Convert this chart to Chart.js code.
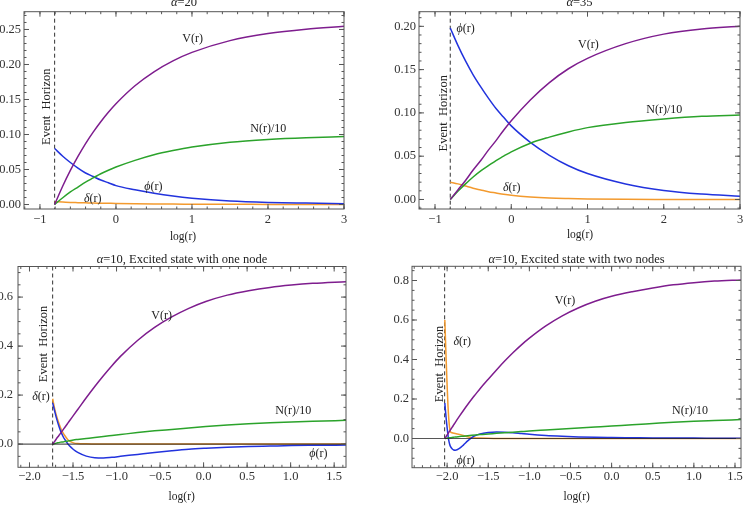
<!DOCTYPE html>
<html>
<head>
<meta charset="utf-8">
<script src="https://cdn.jsdelivr.net/npm/chart.js@4/dist/chart.umd.min.js"></script>
<style>
  html, body { margin: 0; padding: 0; background: #fff; }
  #wrap { position: relative; width: 749px; height: 508px; overflow: hidden; }
  canvas { position: absolute; }
</style>
</head>
<body>
<div id="wrap">
  <canvas id="c1" width="375" height="254" style="left:0;top:0"></canvas>
  <canvas id="c2" width="374" height="254" style="left:375px;top:0"></canvas>
  <canvas id="c3" width="375" height="254" style="left:0;top:254px"></canvas>
  <canvas id="c4" width="374" height="254" style="left:375px;top:254px"></canvas>
</div>
<script>
// alpha = 20
const x20 = [-0.807, -0.7, -0.6, -0.5, -0.4, -0.3, -0.2, -0.1, 0, 0.25, 0.5, 0.75, 1, 1.5, 2, 2.5, 3];
const v20 = [0, 0.0264, 0.0487, 0.0687, 0.087, 0.1034, 0.1183, 0.1318, 0.144, 0.1697, 0.1896, 0.2052, 0.2173, 0.2341, 0.2443, 0.2505, 0.2545];
const n20 = [0, 0.0097, 0.018, 0.025, 0.032, 0.038, 0.044, 0.049, 0.0535, 0.063, 0.071, 0.077, 0.082, 0.089, 0.093, 0.0955, 0.097];
const phi20 = [0.080, 0.069, 0.060, 0.052, 0.045, 0.040, 0.035, 0.031, 0.027, 0.021, 0.016, 0.012, 0.009, 0.005, 0.003, 0.002, 0.0012];
const d20 = [0.004, 0.0035, 0.003, 0.0027, 0.0024, 0.0021, 0.0019, 0.0017, 0.0015, 0.0011, 0.0008, 0.0006, 0.0005, 0.0003, 0.0002, 0.0001, 0];

// alpha = 35
const x35 = [-0.8, -0.7, -0.6, -0.5, -0.4, -0.3, -0.2, -0.1, 0, 0.25, 0.5, 0.75, 1, 1.5, 2, 2.5, 3];
const v35 = [0, 0.011, 0.022, 0.034, 0.045, 0.057, 0.068, 0.080, 0.091, 0.115, 0.135, 0.151, 0.163, 0.180, 0.191, 0.197, 0.200];
const n35 = [0, 0.0095, 0.018, 0.026, 0.033, 0.039, 0.045, 0.050, 0.055, 0.065, 0.072, 0.078, 0.083, 0.089, 0.093, 0.096, 0.0975];
const phi35 = [0.198, 0.178, 0.160, 0.144, 0.130, 0.117, 0.105, 0.095, 0.085, 0.066, 0.051, 0.039, 0.030, 0.018, 0.0105, 0.0063, 0.0037];
const d35 = [0.020, 0.018, 0.0155, 0.013, 0.011, 0.009, 0.0075, 0.006, 0.0048, 0.0028, 0.0016, 0.001, 0.0006, 0.0002, 0.0001, 0, 0];

// alpha = 10, one node
const xOne = [-1.734, -1.711, -1.692, -1.662, -1.642, -1.613, -1.593, -1.564, -1.544, -1.495, -1.446, -1.348, -1.250, -1.151, -1.053, -0.955, -0.759, -0.563, -0.366, -0.170, 0.026, 0.272, 0.517, 0.763, 1.008, 1.253, 1.636];
const vOne = [0, 0.011, 0.021, 0.035, 0.045, 0.059, 0.069, 0.083, 0.093, 0.117, 0.141, 0.189, 0.235, 0.279, 0.320, 0.358, 0.423, 0.476, 0.519, 0.554, 0.582, 0.608, 0.626, 0.6395, 0.649, 0.656, 0.663];
const nOne = [0, 0.002, 0.004, 0.006, 0.008, 0.009, 0.011, 0.012, 0.014, 0.017, 0.019, 0.023, 0.027, 0.031, 0.035, 0.039, 0.047, 0.054, 0.060, 0.066, 0.072, 0.078, 0.083, 0.087, 0.090, 0.093, 0.097];
const phiOne = [0.168, 0.135, 0.108, 0.073, 0.053, 0.030, 0.018, 0.003, -0.006, -0.022, -0.034, -0.049, -0.056, -0.057, -0.054, -0.050, -0.042, -0.034, -0.027, -0.021, -0.017, -0.013, -0.010, -0.008, -0.006, -0.005, -0.004];
const dOne = [0.185, 0.145, 0.118, 0.085, 0.066, 0.045, 0.034, 0.020, 0.013, 0.005, 0.002, 0.001, 0.0005, 0, 0, 0, 0, 0, 0, 0, 0, 0, 0, 0, 0, 0, 0];

// alpha = 10, two nodes
const xTwo = [-2.028, -2.02, -2.01, -2.0, -1.99, -1.98, -1.97, -1.96, -1.94, -1.92, -1.9, -1.85, -1.8, -1.75, -1.7, -1.65, -1.6, -1.5, -1.4, -1.3, -1.2, -1.1, -1.0, -0.8, -0.6, -0.4, -0.2, 0, 0.25, 0.5, 0.75, 1.0, 1.25, 1.573];
const vTwo = [0, 0.005, 0.011, 0.018, 0.024, 0.031, 0.037, 0.044, 0.056, 0.069, 0.082, 0.113, 0.143, 0.172, 0.200, 0.226, 0.252, 0.300, 0.347, 0.392, 0.434, 0.473, 0.508, 0.570, 0.621, 0.662, 0.695, 0.720, 0.743, 0.762, 0.778, 0.789, 0.797, 0.803];
const nTwo = [0, 0.0005, 0.001, 0.002, 0.0025, 0.003, 0.0035, 0.004, 0.005, 0.0065, 0.008, 0.010, 0.012, 0.014, 0.016, 0.018, 0.020, 0.023, 0.026, 0.029, 0.032, 0.035, 0.038, 0.043, 0.048, 0.053, 0.058, 0.063, 0.070, 0.076, 0.082, 0.087, 0.091, 0.096];
const phiTwo = [0.18, 0.14, 0.095, 0.055, 0.018, -0.01, -0.028, -0.040, -0.052, -0.058, -0.059, -0.050, -0.032, -0.012, 0.005, 0.016, 0.023, 0.030, 0.033, 0.032, 0.029, 0.025, 0.021, 0.015, 0.011, 0.008, 0.006, 0.005, 0.004, 0.003, 0.0025, 0.002, 0.0015, 0.001];
const dTwo = [0.60, 0.50, 0.38, 0.27, 0.17, 0.10, 0.055, 0.035, 0.029, 0.027, 0.025, 0.021, 0.015, 0.009, 0.005, 0.003, 0.002, 0.001, 0.0005, 0, 0, 0, 0, 0, 0, 0, 0, 0, 0, 0, 0, 0, 0, 0];

// tick labels
const ticksXTop = [-1, 0, 1, 2, 3];
const ticksY20 = [0, 0.05, 0.10, 0.15, 0.20, 0.25];
const ticksY35 = [0, 0.05, 0.10, 0.15, 0.20];
const ticksXBottom = [-2.0, -1.5, -1.0, -0.5, 0.0, 0.5, 1.0, 1.5];
const ticksYOne = [0, 0.2, 0.4, 0.6];
const ticksYTwo = [0, 0.2, 0.4, 0.6, 0.8];

const serif = '"Liberation Serif", "Times New Roman", "DejaVu Serif", serif';
const colV = '#7e1d8e', colN = '#2ba32b', colPhi = '#2233dd', colD = '#f39a2e';

const greek = (g) => [{ t: g, it: true }, { t: '(r)' }];

const panels = [
  {
    id: 'c1', x: x20, V: v20, N: n20, phi: phi20, delta: d20, horizon: -0.807,
    xr: [-1.21, 3], yr: [-0.0064, 0.2754], xt: ticksXTop, yt: ticksY20, xd: 0, yd: 2,
    xMinor: 0.2, yMinor: 0.01, zeroLine: false,
    box: { left: 24, right: 31, top: 11.7, bottom: 45 }, xPad: 3.5, yPad: 3,
    title: [{ t: 'α', it: true }, { t: '=20' }], titleY: 6,
    axisTitle: [183, 236.5], eh: [46.7, 106.7],
    labels: [
      { p: [{ t: 'V(r)' }], at: [192.7, 39.3] },
      { p: [{ t: 'N(r)/10' }], at: [268.3, 129.3] },
      { p: greek('ϕ'), at: [153.3, 186.7] },
      { p: greek('δ'), at: [92.7, 199.3] }
    ]
  },
  {
    id: 'c2', x: x35, V: v35, N: n35, phi: phi35, delta: d35, horizon: -0.80,
    xr: [-1.21, 3], yr: [-0.011, 0.2169], xt: ticksXTop, yt: ticksY35, xd: 0, yd: 2,
    xMinor: 0.2, yMinor: 0.01, zeroLine: false,
    box: { left: 44, right: 9, top: 11.7, bottom: 45 }, xPad: 3.5, yPad: 3,
    title: [{ t: 'α', it: true }, { t: '=35' }], titleY: 6,
    axisTitle: [205, 235], eh: [68.3, 113.3],
    labels: [
      { p: greek('ϕ'), at: [90.7, 29.3] },
      { p: [{ t: 'V(r)' }], at: [213.3, 45] },
      { p: [{ t: 'N(r)/10' }], at: [289.3, 110] },
      { p: greek('δ'), at: [136.7, 188.3] }
    ]
  },
  {
    id: 'c3', x: xOne, V: vOne, N: nOne, phi: phiOne, delta: dOne, horizon: -1.734,
    xr: [-2.132, 1.636], yr: [-0.0947, 0.7248], xt: ticksXBottom, yt: ticksYOne, xd: 1, yd: 1,
    xMinor: 0.1, yMinor: 0.05, zeroLine: true,
    box: { left: 18, right: 29, top: 11.7, bottom: 40.7 }, xPad: 2, yPad: 5,
    title: [{ t: 'α', it: true }, { t: '=10, Excited state with one node' }], titleY: 9,
    axisTitle: [181.7, 242.7], eh: [43.3, 90],
    labels: [
      { p: [{ t: 'V(r)' }], at: [161.7, 61.7] },
      { p: [{ t: 'N(r)/10' }], at: [293.3, 156.7] },
      { p: greek('δ'), at: [41, 143.3] },
      { p: greek('ϕ'), at: [318.3, 200] }
    ]
  },
  {
    id: 'c4', x: xTwo, V: vTwo, N: nTwo, phi: phiTwo, delta: dTwo, horizon: -2.03,
    xr: [-2.427, 1.573], yr: [-0.1478, 0.8719], xt: ticksXBottom, yt: ticksYTwo, xd: 1, yd: 1,
    xMinor: 0.1, yMinor: 0.05, zeroLine: true,
    box: { left: 37, right: 8, top: 12.3, bottom: 40.3 }, xPad: 2, yPad: 3,
    title: [{ t: 'α', it: true }, { t: '=10, Excited state with two nodes' }], titleY: 9,
    axisTitle: [201.7, 242.7], eh: [65, 110],
    labels: [
      { p: [{ t: 'V(r)' }], at: [190, 46.7] },
      { p: [{ t: 'N(r)/10' }], at: [315, 157.3] },
      { p: greek('δ'), at: [87.3, 88.3] },
      { p: greek('ϕ'), at: [90.7, 207.3] }
    ]
  }
];

const fmt = (v, d) => (v < -1e-9 ? '\u2212' : '') + Math.abs(v).toFixed(d);

// mixed italic / upright text, centred on cx
function rich(ctx, parts, cx, cy, size, baseline) {
  let w = 0;
  parts.forEach(pt => {
    ctx.font = (pt.it ? 'italic ' : '') + size + 'px ' + serif;
    pt.w = ctx.measureText(pt.t).width;
    w += pt.w;
  });
  let xx = cx - w / 2;
  ctx.textAlign = 'left';
  ctx.textBaseline = baseline || 'middle';
  parts.forEach(pt => {
    ctx.font = (pt.it ? 'italic ' : '') + size + 'px ' + serif;
    ctx.fillText(pt.t, xx, cy);
    xx += pt.w;
  });
}

function makePlugin(p) {
  return {
    id: 'frame',
    beforeDatasetsDraw(chart) {
      const { ctx, chartArea: a, scales: { x } } = chart;
      const hx = x.getPixelForValue(p.horizon);
      ctx.save();
      ctx.strokeStyle = '#333';
      ctx.lineWidth = 1;
      ctx.setLineDash([4, 3]);
      ctx.beginPath();
      ctx.moveTo(hx, a.top);
      ctx.lineTo(hx, a.bottom);
      ctx.stroke();
      ctx.restore();
    },
    afterDatasetsDraw(chart) {
      const { ctx, chartArea: a, scales: { x, y } } = chart;
      ctx.save();

      if (p.zeroLine) {
        const zy = y.getPixelForValue(0);
        ctx.strokeStyle = 'rgba(30,30,30,0.75)';
        ctx.lineWidth = 1.2;
        ctx.beginPath();
        ctx.moveTo(a.left, zy);
        ctx.lineTo(a.right, zy);
        ctx.stroke();
      }

      // frame
      ctx.strokeStyle = '#555';
      ctx.lineWidth = 1;
      ctx.strokeRect(a.left, a.top, a.right - a.left, a.bottom - a.top);

      // inward ticks on all four sides
      ctx.beginPath();
      const xTick = (v, len) => {
        const px = x.getPixelForValue(v);
        ctx.moveTo(px, a.bottom); ctx.lineTo(px, a.bottom - len);
        ctx.moveTo(px, a.top); ctx.lineTo(px, a.top + len);
      };
      const yTick = (v, len) => {
        const py = y.getPixelForValue(v);
        ctx.moveTo(a.left, py); ctx.lineTo(a.left + len, py);
        ctx.moveTo(a.right, py); ctx.lineTo(a.right - len, py);
      };
      for (let k = Math.ceil(p.xr[0] / p.xMinor); k * p.xMinor <= p.xr[1] + 1e-9; k++) xTick(k * p.xMinor, 2.5);
      for (let k = Math.ceil(p.yr[0] / p.yMinor); k * p.yMinor <= p.yr[1] + 1e-9; k++) yTick(k * p.yMinor, 2.5);
      p.xt.forEach(v => xTick(v, 5));
      p.yt.forEach(v => yTick(v, 5));
      ctx.stroke();

      ctx.fillStyle = '#222';
      // title, axis title, curve labels
      rich(ctx, p.title, (a.left + a.right) / 2, p.titleY, 12.5, 'alphabetic');
      rich(ctx, [{ t: 'log(r)' }], p.axisTitle[0], p.axisTitle[1], 11.5);
      p.labels.forEach(l => rich(ctx, l.p, l.at[0], l.at[1], 12));

      // rotated "Event Horizon"
      ctx.translate(p.eh[0], p.eh[1]);
      ctx.rotate(-Math.PI / 2);
      ctx.font = '12.5px ' + serif;
      ctx.textAlign = 'center';
      ctx.textBaseline = 'middle';
      ctx.fillText('Event  Horizon', 0, 0);
      ctx.restore();
    }
  };
}

function series(xs, ys, color) {
  return {
    data: xs.map((v, i) => ({ x: v, y: ys[i] })),
    borderColor: color,
    borderWidth: 1.5,
    showLine: true,
    pointRadius: 0,
    cubicInterpolationMode: 'monotone',
    fill: false
  };
}

panels.forEach(p => {
  const tickFont = { family: serif, size: 12.5 };
  new Chart(document.getElementById(p.id), {
    type: 'scatter',
    data: {
      datasets: [
        series(p.x, p.V, colV),
        series(p.x, p.N, colN),
        series(p.x, p.phi, colPhi),
        series(p.x, p.delta, colD)
      ]
    },
    options: {
      responsive: false,
      animation: false,
      devicePixelRatio: 1,
      layout: { padding: 0 },
      plugins: { legend: { display: false }, tooltip: { enabled: false }, title: { display: false } },
      scales: {
        x: {
          type: 'linear', position: 'bottom', min: p.xr[0], max: p.xr[1],
          grid: { display: false, drawTicks: false }, border: { display: false },
          afterBuildTicks: s => { s.ticks = p.xt.map(v => ({ value: v })); },
          afterFit: s => { s.height = p.box.bottom; },
          ticks: { autoSkip: false, maxRotation: 0, padding: p.xPad, color: '#333', font: tickFont,
                   callback: v => fmt(v, p.xd) }
        },
        y: {
          type: 'linear', position: 'left', min: p.yr[0], max: p.yr[1],
          grid: { display: false, drawTicks: false }, border: { display: false },
          afterBuildTicks: s => { s.ticks = p.yt.map(v => ({ value: v })); },
          afterFit: s => { s.width = p.box.left; },
          ticks: { autoSkip: false, padding: p.yPad, color: '#333', font: tickFont,
                   callback: v => fmt(v, p.yd) }
        },
        xTop: {
          type: 'linear', position: 'top', min: 0, max: 1,
          grid: { display: false, drawTicks: false }, border: { display: false },
          ticks: { display: false },
          afterFit: s => { s.height = p.box.top; }
        },
        yRight: {
          type: 'linear', position: 'right', min: 0, max: 1,
          grid: { display: false, drawTicks: false }, border: { display: false },
          ticks: { display: false },
          afterFit: s => { s.width = p.box.right; }
        }
      }
    },
    plugins: [makePlugin(p)]
  });
});
</script>
</body>
</html>
